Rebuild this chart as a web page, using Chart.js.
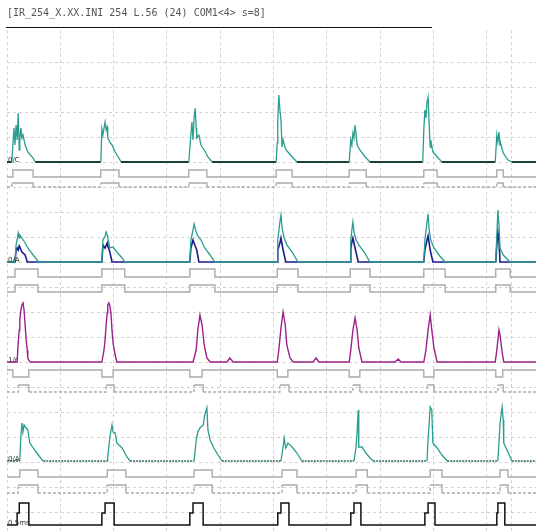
<!DOCTYPE html>
<html>
<head>
<meta charset="utf-8">
<script src="https://cdn.jsdelivr.net/npm/chart.js@4.4.1/dist/chart.umd.min.js"></script>
<style>
  html, body { margin: 0; padding: 0; background: #fff; }
  #wrap { position: relative; width: 536px; height: 531px; }
  #head { position: absolute; left: 7px; top: 8px; font: 10px "DejaVu Sans Mono", monospace; line-height: 10px; color: #555; white-space: pre; }
  #rule { position: absolute; left: 6px; top: 27px; width: 426px; height: 0; border-top: 1.4px solid #111; }
</style>
</head>
<body>
<div id="wrap">
  <canvas id="scope"></canvas>
  <div id="head">[IR_254_X.XX.INI 254 L.56 (24) COM1&lt;4&gt; s=8]</div>
  <div id="rule"></div>
</div>
<script>
// time is in divisions, amplitude in divisions above each channel's zero
const tEnd = 9.925;
const cursorAt = 9.47;

const channelNames = ["0/C", "0/A", "1/r", "0/A", "0.5ms"];
const channelZero = [14, 10, 6, 2.04, -0.52];

const ch1Teal = [
  [0.09,0],[0.13,1.36],[0.15,0.68],[0.17,1.48],[0.19,0.88],[0.21,1.96],[0.23,0.48],[0.24,0.88],[0.26,1.36],[0.28,0.96],[0.30,1.08],[0.34,0.68],[0.39,0.40],[0.49,0.16],[0.53,0],
  [1.76,0],[1.78,1.32],[1.80,1.08],[1.82,1.36],[1.84,1.60],[1.86,1.28],[1.88,1.40],[1.89,0.96],[1.93,0.80],[1.97,0.68],[2.03,0.40],[2.12,0.08],[2.14,0],
  [3.41,0],[3.45,1.08],[3.47,1.60],[3.49,0.88],[3.51,1.76],[3.53,2.16],[3.55,1.36],[3.56,0.96],[3.60,1.08],[3.64,0.68],[3.70,0.48],[3.77,0.20],[3.85,0],
  [5.05,0],[5.07,0.76],[5.08,1.68],[5.10,2.68],[5.12,2.08],[5.14,1.68],[5.16,0.60],[5.18,0.88],[5.22,0.56],[5.27,0.40],[5.37,0.16],[5.44,0],
  [6.42,0],[6.45,0.88],[6.47,0.68],[6.49,1.16],[6.51,0.96],[6.53,1.48],[6.55,1.08],[6.57,0.68],[6.62,0.48],[6.72,0.20],[6.81,0],
  [7.80,0],[7.82,1.28],[7.84,2.08],[7.86,1.76],[7.88,2.40],[7.90,2.60],[7.92,1.56],[7.94,0.60],[7.95,0.88],[7.99,0.40],[8.09,0.16],[8.16,0],
  [9.16,0],[9.19,1.08],[9.21,0.80],[9.23,1.20],[9.25,0.68],[9.26,0.76],[9.31,0.36],[9.40,0.08],[9.47,0]
];

const ch2Teal = [
  [0.15,0],[0.17,0.68],[0.19,0.88],[0.21,1.16],[0.23,0.96],[0.24,1.08],[0.28,0.96],[0.34,0.76],[0.39,0.56],[0.49,0.28],[0.58,0.04],[0.60,0],
  [1.78,0],[1.80,0.88],[1.84,1.04],[1.86,1.20],[1.88,1.08],[1.89,1.00],[1.93,0.56],[1.99,0.60],[2.06,0.40],[2.16,0.16],[2.21,0],
  [3.43,0],[3.45,0.88],[3.49,1.28],[3.51,1.52],[3.55,1.20],[3.58,1.04],[3.64,0.88],[3.71,0.56],[3.81,0.28],[3.90,0],
  [5.07,0],[5.08,0.88],[5.12,1.60],[5.14,1.88],[5.16,1.36],[5.20,0.96],[5.25,0.68],[5.35,0.40],[5.46,0],
  [6.44,0],[6.45,0.88],[6.47,1.28],[6.49,1.60],[6.51,1.20],[6.55,0.88],[6.60,0.68],[6.70,0.40],[6.81,0],
  [7.82,0],[7.84,0.88],[7.88,1.60],[7.90,1.92],[7.92,1.28],[7.95,0.88],[8.01,0.56],[8.12,0.24],[8.22,0],
  [9.17,0],[9.19,1.08],[9.21,2.08],[9.23,1.48],[9.25,0.56],[9.31,0.28],[9.44,0]
];

const ch2Navy = [
  [0.15,0],[0.17,0.48],[0.19,0.56],[0.21,0.48],[0.23,0.64],[0.24,0.60],[0.28,0.40],[0.34,0.28],[0.38,0],
  [1.78,0],[1.80,0.68],[1.84,0.56],[1.88,0.76],[1.89,0.64],[1.93,0.40],[1.97,0],
  [3.43,0],[3.45,0.56],[3.49,0.88],[3.53,0.64],[3.56,0.48],[3.60,0],
  [5.07,0],[5.08,0.48],[5.12,0.76],[5.14,0.96],[5.18,0.48],[5.23,0],
  [6.44,0],[6.45,0.48],[6.47,0.80],[6.49,0.96],[6.53,0.56],[6.59,0],
  [7.82,0],[7.84,0.48],[7.88,0.88],[7.90,1.04],[7.94,0.48],[7.99,0],
  [9.17,0],[9.19,0.68],[9.21,1.20],[9.23,0.88],[9.25,0]
];

const ch3Magenta = [
  [0.19,0],[0.21,0.76],[0.23,1.28],[0.24,1.68],[0.26,2.08],[0.28,2.28],[0.30,2.36],[0.32,2.08],[0.34,1.48],[0.36,0.88],[0.38,0.48],[0.39,0.16],[0.43,0],
  [1.78,0],[1.82,0.48],[1.84,0.88],[1.86,1.48],[1.88,1.96],[1.89,2.28],[1.91,2.36],[1.93,2.24],[1.95,1.96],[1.97,1.28],[1.99,0.76],[2.03,0.28],[2.06,0],
  [3.49,0],[3.55,0.48],[3.58,1.28],[3.62,1.88],[3.66,1.48],[3.70,0.68],[3.75,0.16],[3.81,0],
  [4.13,0],[4.18,0.16],[4.24,0],
  [5.07,0],[5.10,0.48],[5.14,1.36],[5.18,2.00],[5.22,1.48],[5.25,0.68],[5.31,0.16],[5.37,0],
  [5.74,0],[5.80,0.16],[5.85,0],
  [6.42,0],[6.45,0.48],[6.49,1.28],[6.53,1.76],[6.57,1.28],[6.60,0.56],[6.66,0],
  [7.28,0],[7.34,0.12],[7.39,0],
  [7.82,0],[7.86,0.48],[7.90,1.28],[7.94,1.88],[7.97,1.28],[8.01,0.56],[8.07,0],
  [9.16,0],[9.19,0.48],[9.23,1.28],[9.25,1.08],[9.29,0.40],[9.32,0]
];

const ch4Teal = [
  [0.24,0],[0.26,0.96],[0.28,1.52],[0.30,1.16],[0.32,1.44],[0.36,1.32],[0.39,1.24],[0.43,0.72],[0.49,0.52],[0.56,0.32],[0.66,0.04],[0.68,0],
  [1.88,0],[1.89,0.16],[1.93,0.96],[1.97,1.44],[1.99,1.16],[2.03,1.12],[2.06,0.72],[2.16,0.52],[2.25,0.16],[2.31,0],
  [3.51,0],[3.55,0.84],[3.58,1.16],[3.62,1.32],[3.68,1.44],[3.71,1.84],[3.75,2.12],[3.77,1.24],[3.81,0.84],[3.88,0.52],[3.96,0.24],[4.03,0],
  [5.14,0],[5.18,0.56],[5.20,0.92],[5.23,0.52],[5.27,0.72],[5.35,0.56],[5.44,0.32],[5.53,0],
  [6.51,0],[6.55,0.56],[6.57,1.24],[6.59,2.04],[6.60,0.56],[6.66,0.56],[6.72,0.36],[6.81,0.12],[6.87,0],
  [7.88,0],[7.90,0.84],[7.94,2.16],[7.97,2.04],[7.99,0.72],[8.07,0.52],[8.16,0.24],[8.26,0],
  [9.21,0],[9.25,1.52],[9.29,2.16],[9.31,1.64],[9.32,0.72],[9.38,0.44],[9.44,0.16],[9.47,0]
];

// trigger: first step, second step, fall
const triggerEdges = [
  [0.19,0.23,0.41],[1.78,1.84,2.01],[3.43,3.49,3.68],[5.08,5.14,5.29],
  [6.45,6.51,6.64],[7.84,7.90,8.03],[9.19,9.21,9.34]
];
const triggerLevels = [0.48, 0.88];

// gate lines: on / off times
const ch1GateA = [[0.11,0.49],[1.76,2.10],[3.41,3.75],[5.05,5.35],[6.42,6.74],[7.82,8.07],[9.19,9.31]];
const ch1GateB = [[0.09,0.49],[1.76,2.10],[3.41,3.75],[5.05,5.35],[6.42,6.74],[7.82,8.07],[9.19,9.31]];
const ch2GateA = [[0.15,0.58],[1.78,2.21],[3.43,3.90],[5.07,5.46],[6.44,6.81],[7.82,8.22],[9.17,9.44]];
const ch2GateB = [[0.15,0.58],[1.78,2.21],[3.43,3.90],[5.07,5.46],[6.44,6.81],[7.82,8.22],[9.17,9.44]];
const ch3GateA = [[0.11,0.41],[1.78,1.99],[3.43,3.66],[5.07,5.27],[6.42,6.62],[7.82,8.01],[9.17,9.30]];
const ch3GateB = [[0.21,0.41],[1.86,2.01],[3.51,3.68],[5.12,5.29],[6.49,6.62],[7.88,8.01],[9.21,9.31]];
const ch4GateA = [[0.24,0.58],[1.88,2.23],[3.51,3.85],[5.16,5.44],[6.55,6.76],[7.94,8.16],[9.25,9.40]];
const ch4GateB = [[0.21,0.58],[1.88,2.23],[3.51,3.85],[5.16,5.44],[6.55,6.76],[7.94,8.16],[9.25,9.40]];
const gateZero = [13.4, 13.0, 9.4, 8.8, 5.68, 4.8, 1.4, 0.76];
const gateHigh = [0.28, 0.16, 0.32, 0.28, -0.28, 0.28, 0.28, 0.32];
const gateDashedLow = [false, true, false, false, false, true, false, true];

function trace(points, zero) {
  return [{x: 0, y: zero}].concat(points.map(p => ({x: p[0], y: zero + p[1]})), [{x: tEnd, y: zero}]);
}
function gate(edges, zero, high) {
  const pts = [{x: 0, y: zero}];
  edges.forEach(e => { pts.push({x: e[0], y: zero + high}, {x: e[1], y: zero}); });
  pts.push({x: tEnd, y: zero});
  return pts;
}
function trigger(edges, zero) {
  const pts = [{x: 0, y: zero}];
  edges.forEach(e => {
    pts.push({x: e[0], y: zero + triggerLevels[0]}, {x: e[1], y: zero + triggerLevels[1]}, {x: e[2], y: zero});
  });
  pts.push({x: tEnd, y: zero});
  return pts;
}
const flat = (ctx, zero) => Math.abs(ctx.p0.parsed.y - zero) < 1e-6 && Math.abs(ctx.p1.parsed.y - zero) < 1e-6;
const startsLow = (ctx, zero) => Math.abs(ctx.p0.parsed.y - zero) < 1e-6;

const gates = [ch1GateA, ch1GateB, ch2GateA, ch2GateB, ch3GateA, ch3GateB, ch4GateA, ch4GateB];
const datasets = gates.map((g, i) => ({
  data: gate(g, gateZero[i], gateHigh[i]),
  borderColor: "#ababab", borderWidth: 1.4, stepped: true,
  segment: {
    borderDash: ctx => (gateDashedLow[i] && startsLow(ctx, gateZero[i])) ? [3, 2] : undefined
  }
}));

datasets.push({
  data: trace(ch1Teal, channelZero[0]), borderColor: "#2a9d8f", borderWidth: 1.3,
  segment: {
    borderColor: ctx => flat(ctx, channelZero[0]) ? "#1d3f3c" : undefined,
    borderWidth: ctx => flat(ctx, channelZero[0]) ? 2 : undefined
  }
});
datasets.push({ data: trace(ch2Teal, channelZero[1]), borderColor: "#2a9d8f", borderWidth: 1.3 });
datasets.push({ data: trace(ch2Navy, channelZero[1]), borderColor: "#1c1c8e", borderWidth: 1.6 });
datasets.push({ data: trace(ch3Magenta, channelZero[2]), borderColor: "#9c1f8c", borderWidth: 1.4 });
datasets.push({
  data: trace(ch4Teal, channelZero[3]), borderColor: "#2a9d8f", borderWidth: 1.3,
  segment: {
    borderColor: ctx => flat(ctx, channelZero[3]) ? "#2f6663" : undefined,
    borderDash: ctx => flat(ctx, channelZero[3]) ? [2, 1] : undefined
  }
});
datasets.push({ data: trigger(triggerEdges, channelZero[4]), borderColor: "#111", borderWidth: 1.5, stepped: true });

const channelLabels = {
  id: "channelLabels",
  afterDatasetsDraw(chart) {
    const { ctx, chartArea, scales } = chart;
    ctx.save();
    ctx.font = "7px 'DejaVu Sans'";
    ctx.fillStyle = "#333";
    ctx.textBaseline = "alphabetic";
    channelNames.forEach((name, i) => {
      ctx.fillText(name, chartArea.left + 1, scales.y.getPixelForValue(channelZero[i]));
    });
    ctx.restore();
  }
};

new Chart(document.getElementById("scope"), {
  type: "line",
  data: { datasets },
  plugins: [channelLabels],
  options: {
    responsive: true,
    maintainAspectRatio: false,
    devicePixelRatio: 1,
    animation: false,
    layout: { padding: { top: 30, left: 7, right: 0, bottom: 0 } },
    elements: { point: { radius: 0 }, line: { tension: 0 } },
    plugins: { legend: { display: false }, tooltip: { enabled: false }, title: { display: false } },
    scales: {
      x: {
        type: "linear", min: 0, max: tEnd,
        ticks: { display: false, stepSize: 1, includeBounds: false },
        grid: { color: "#d2d2d2", lineWidth: 1, drawTicks: false },
        border: { display: false, dash: [3, 3] },
        afterBuildTicks(scale) {
          scale.ticks = scale.ticks.filter(t => Number.isInteger(t.value) && t.value <= 9);
          scale.ticks.push({ value: cursorAt });
        }
      },
      y: {
        type: "linear", min: -0.76, max: 19.28,
        ticks: { display: false, stepSize: 1, includeBounds: false },
        grid: { color: "#d2d2d2", lineWidth: 1, drawTicks: false },
        border: { display: false, dash: [3, 3] },
        afterBuildTicks(scale) {
          scale.ticks = scale.ticks.filter(t => Number.isInteger(t.value) && t.value >= 0 && t.value <= 18);
        }
      }
    }
  }
});
</script>
</body>
</html>
